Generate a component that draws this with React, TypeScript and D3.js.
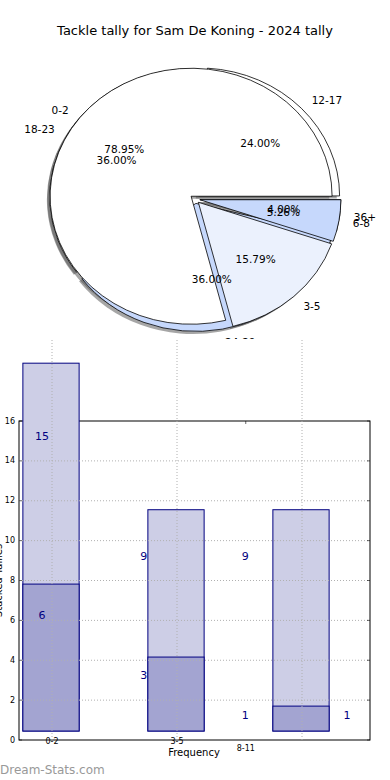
import React from 'react';
import * as d3 from 'd3';

// pie data (two overlapping pies, as in the original)
const pieOneLabels = ['0-2', '3-5', '6-8'];
const pieOneCounts = [15, 3, 1];
const pieOneColors = ['#ffffff', '#ebf1fd', '#c6d8fc'];

const pieTwoLabels = ['12-17', '18-23', '24-29', '36+'];
const pieTwoCounts = [6, 9, 9, 1];
const pieTwoColors = ['#ffffff', '#ffffff', '#c6d8fc', '#c6d8fc'];

// bar data
const barTicks = ['0-2', '3-5'];
const lightBars = [18.9, 11.55, 11.55];
const darkBars = [7.82, 4.16, 1.7];
const barBase = 0.45;
const yTicks = [0, 2, 4, 6, 8, 10, 12, 14, 16];

const font = 'DejaVu Sans, sans-serif';

const W = 390;
const H = 780;

// pie geometry
const cx = 195;
const cy = 199;
const rx = 141;
const ry = 128;
const explode = 0.035;

type Slice = {
  path: string;
  ox: number;
  oy: number;
  fill: string;
  label: string;
  lx: number;
  ly: number;
  anchor: string;
  px: number;
  py: number;
  pct: string;
};

function buildPie(counts: number[], labels: string[], colors: string[]): Slice[] {
  // matplotlib style: start at 3 o'clock and go counter-clockwise
  const pie = d3.pie<number>().sort(null).startAngle(Math.PI / 2).endAngle(Math.PI / 2 - 2 * Math.PI);
  const arc = d3.arc<d3.PieArcDatum<number>>().innerRadius(0).outerRadius(rx);
  const total = d3.sum(counts);
  return pie(counts).map((d, i) => {
    const m = (d.startAngle + d.endAngle) / 2;
    const ux = Math.sin(m);
    const uy = -Math.cos(m);
    const ox = cx + explode * rx * ux;
    const oy = cy + explode * ry * uy;
    return {
      path: arc(d) as string,
      ox,
      oy,
      fill: colors[i],
      label: labels[i],
      lx: ox + 1.1 * rx * ux,
      ly: oy + 1.1 * ry * uy,
      anchor: ux > 0 ? 'start' : 'end',
      px: ox + 0.6 * rx * ux,
      py: oy + 0.6 * ry * uy,
      pct: ((100 * d.data) / total).toFixed(2) + '%',
    };
  });
}

const Shadows = ({ slices }: { slices: Slice[] }) => (
  <g>
    {slices.map((s, i) => (
      <path
        key={'s' + i}
        d={s.path}
        transform={`translate(${s.ox - 2.8},${s.oy + 2.6}) scale(1,${ry / rx})`}
        fill="#4d4d4d"
        opacity={0.5}
      />
    ))}
  </g>
);

const Wedges = ({ slices }: { slices: Slice[] }) => (
  <g>
    {slices.map((s, i) => (
      <path
        key={'w' + i}
        d={s.path}
        transform={`translate(${s.ox},${s.oy}) scale(1,${ry / rx})`}
        fill={s.fill}
        stroke="#000"
        strokeWidth={0.8}
        vectorEffect="non-scaling-stroke"
      />
    ))}
  </g>
);

const PieTexts = ({ slices }: { slices: Slice[] }) => (
  <g fontFamily={font} fontSize={10.5} fill="#000">
    {slices.map((s, i) => (
      <g key={i}>
        <text x={s.lx} y={s.ly} textAnchor={s.anchor} dominantBaseline="central">
          {s.label}
        </text>
        <text x={s.px} y={s.py} textAnchor="middle" dominantBaseline="central">
          {s.pct}
        </text>
      </g>
    ))}
  </g>
);

export default function App() {
  const pieOne = buildPie(pieOneCounts, pieOneLabels, pieOneColors);
  const pieTwo = buildPie(pieTwoCounts, pieTwoLabels, pieTwoColors);

  // bar chart scales
  const left = 19;
  const right = 370;
  const top = 421;
  const bottom = 740;
  const y = d3.scaleLinear().domain([0, 16]).range([bottom, top]);
  const x = d3.scaleLinear().domain([0, 2]).range([52, 302]);
  const labelX = d3.scaleLinear().domain([0, 3]).range([42, 347]);
  const barW = 0.45 * (x(1) - x(0));
  const idx = d3.range(lightBars.length);

  return (
    <div style={{ position: 'absolute', left: 0, top: 0 }}>
      <svg width={W} height={H} style={{ display: 'block', background: '#fff' }}>
        <text x={195} y={35} textAnchor="middle" fontFamily={font} fontSize={13} fill="#000">
          Tackle tally for Sam De Koning - 2024 tally
        </text>

        <Shadows slices={pieTwo} />
        <Shadows slices={pieOne} />
        <Wedges slices={pieTwo} />
        <Wedges slices={pieOne} />
        <PieTexts slices={pieTwo} />
        <PieTexts slices={pieOne} />

        {/* bar figure drawn over the lower part */}
        <rect x={0} y={339} width={W} height={H - 339} fill="#fff" />

        <rect x={left} y={top} width={right - left} height={bottom - top} fill="none" stroke="#000" strokeWidth={1} />

        {idx.map((i) => (
          <g key={i}>
            <rect
              x={x(i) - 1 - barW / 2}
              y={y(lightBars[i])}
              width={barW}
              height={y(barBase) - y(lightBars[i])}
              fill="#cdcee6"
              stroke="#000080"
              strokeWidth={1}
            />
            <rect
              x={x(i) - 1 - barW / 2}
              y={y(darkBars[i])}
              width={barW}
              height={y(barBase) - y(darkBars[i])}
              fill="#a3a4d1"
              stroke="#000080"
              strokeWidth={1}
            />
          </g>
        ))}

        {/* grid */}
        <g stroke="#b0b0b0" strokeWidth={1} strokeDasharray="1,2">
          {yTicks.slice(1, -1).map((t) => (
            <line key={t} x1={left} x2={right} y1={y(t)} y2={y(t)} />
          ))}
          {idx.map((i) => (
            <line key={i} x1={x(i)} x2={x(i)} y1={340} y2={bottom} />
          ))}
        </g>

        {/* ticks */}
        <g stroke="#000" strokeWidth={0.6}>
          {yTicks.map((t) => (
            <g key={t}>
              <line x1={left} x2={left + 3} y1={y(t)} y2={y(t)} />
              <line x1={right - 3} x2={right} y1={y(t)} y2={y(t)} />
            </g>
          ))}
          <line x1={x(1.55)} x2={x(1.55)} y1={top} y2={top + 3} />
        </g>

        <g fontFamily={font} fontSize={8} fill="#000">
          {yTicks.map((t) => (
            <text key={t} x={left - 4} y={y(t)} textAnchor="end" dominantBaseline="central">
              {t}
            </text>
          ))}
          {barTicks.map((t, i) => (
            <text key={t} x={x(i)} y={bottom + 1} textAnchor="middle" dominantBaseline="central">
              {t}
            </text>
          ))}
          <text x={x(1.55)} y={bottom + 8} textAnchor="middle" dominantBaseline="central">
            8-11
          </text>
        </g>

        <text x={194} y={752} textAnchor="middle" dominantBaseline="central" fontFamily={font} fontSize={10} fill="#000">
          Frequency
        </text>
        <text
          transform={`translate(-2,${(top + bottom) / 2}) rotate(-90)`}
          textAnchor="middle"
          dominantBaseline="central"
          fontFamily={font}
          fontSize={10}
          fill="#000"
        >
          Stacked Tallies
        </text>

        {/* count labels */}
        <g fontFamily={font} fontSize={11} fill="#000080" textAnchor="middle">
          {pieOneCounts.map((v, i) => (
            <text key={'a' + i} x={labelX(i)} y={y(v) - 1}>
              {v}
            </text>
          ))}
          {pieTwoCounts.map((v, i) => (
            <text key={'b' + i} x={labelX(i)} y={y(v) - 1}>
              {v}
            </text>
          ))}
        </g>

        <text x={0} y={774} fontFamily={font} fontSize={12} fill="#999">
          Dream-Stats.com
        </text>
      </svg>
    </div>
  );
}
